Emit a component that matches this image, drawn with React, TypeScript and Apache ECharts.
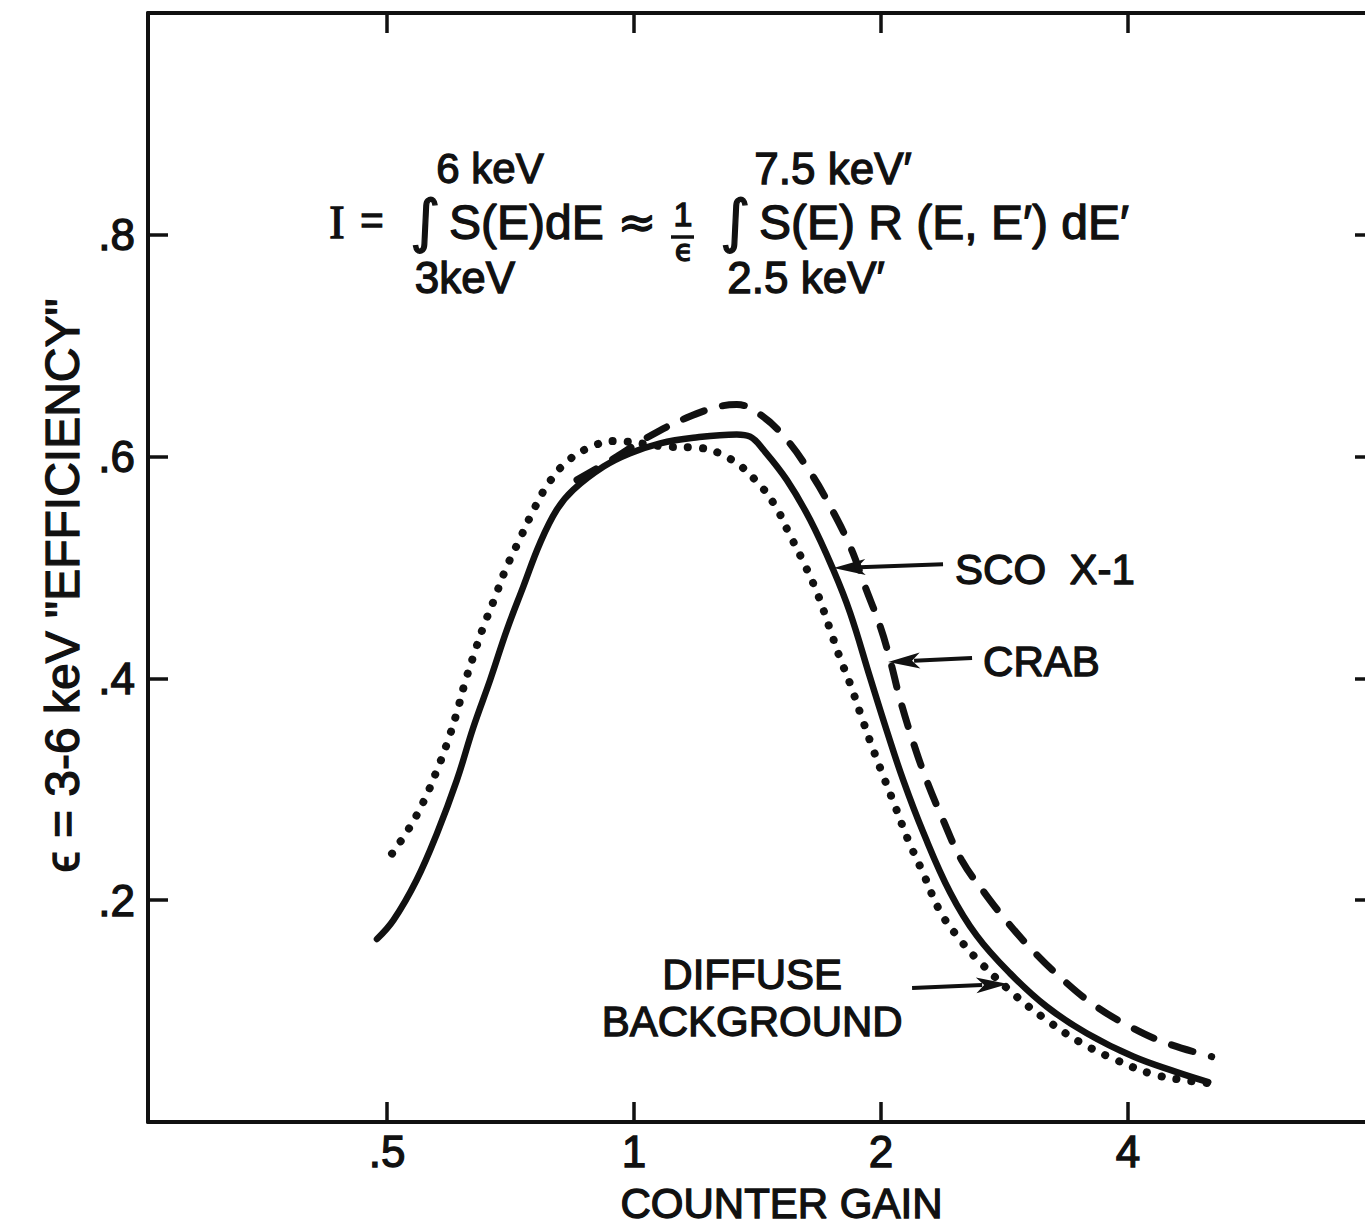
import React, { useEffect, useRef } from "react";
import * as echarts from "echarts";

// ---------- data ----------
const xTickValues = [0.5, 1, 2, 4];
const xTickLabels = [".5", "1", "2", "4"];
const yTickValues = [0.2, 0.4, 0.6, 0.8];
const yTickLabels = [".2", ".4", ".6", ".8"];

const scoGain = [0.486, 0.509, 0.543, 0.575, 0.608, 0.637, 0.668, 0.7, 0.733, 0.768, 0.805, 0.843, 0.918, 0.989, 1.076, 1.181, 1.334, 1.385, 1.438, 1.535, 1.639, 1.749, 1.834, 1.939, 2.032, 2.129, 2.252, 2.428, 2.616, 2.873, 3.184, 3.562, 4.06, 4.586, 5.01];
const scoEff = [0.165, 0.182, 0.218, 0.26, 0.308, 0.356, 0.399, 0.444, 0.483, 0.522, 0.552, 0.57, 0.591, 0.603, 0.612, 0.617, 0.62, 0.618, 0.606, 0.579, 0.543, 0.498, 0.459, 0.401, 0.353, 0.308, 0.261, 0.207, 0.168, 0.134, 0.104, 0.08, 0.059, 0.045, 0.036];

const crabGain = [0.852, 0.953, 1.036, 1.159, 1.285, 1.334, 1.424, 1.528, 1.639, 1.717, 1.834, 1.912, 1.995, 2.051, 2.11, 2.19, 2.273, 2.372, 2.508, 2.678, 2.846, 3.067, 3.336, 3.629, 4.022, 4.459, 5.059];
const crabEff = [0.579, 0.6, 0.617, 0.635, 0.646, 0.647, 0.638, 0.617, 0.586, 0.561, 0.519, 0.483, 0.447, 0.417, 0.381, 0.342, 0.308, 0.275, 0.236, 0.206, 0.181, 0.154, 0.128, 0.106, 0.086, 0.071, 0.059];

const diffuseGain = [0.507, 0.531, 0.554, 0.575, 0.592, 0.608, 0.622, 0.637, 0.654, 0.676, 0.698, 0.726, 0.758, 0.79, 0.836, 0.901, 0.944, 1.096, 1.198, 1.309, 1.405, 1.485, 1.542, 1.601, 1.67, 1.73, 1.779, 1.834, 1.886, 1.945, 2.01, 2.08, 2.156, 2.252, 2.356, 2.474, 2.633, 2.927, 3.169, 3.496, 3.868, 4.295, 4.76, 5.035];
const diffuseEff = [0.242, 0.264, 0.289, 0.317, 0.342, 0.369, 0.396, 0.42, 0.445, 0.472, 0.499, 0.526, 0.555, 0.578, 0.598, 0.611, 0.614, 0.609, 0.608, 0.598, 0.579, 0.556, 0.532, 0.508, 0.478, 0.446, 0.42, 0.395, 0.369, 0.341, 0.313, 0.285, 0.255, 0.224, 0.191, 0.168, 0.145, 0.113, 0.093, 0.072, 0.056, 0.043, 0.037, 0.035];

// annotation anchors in data coordinates [gain, efficiency]
const scoArrow = { from: [2.38, 0.503], to: [1.75, 0.4995], label: [2.462, 0.498], text: "SCO  X-1" };
const crabArrow = { from: [2.582, 0.4184], to: [2.04, 0.4148], label: [2.663, 0.4148], text: "CRAB" };
const diffuseArrow = { from: [2.182, 0.1208], to: [2.857, 0.1244] };
const diffuseLabelPos = [1.393, 0.1326];
const diffuseLabelPos2 = [1.393, 0.0902];
const diffuseText = ["DIFFUSE", "BACKGROUND"];

const X_MIN = 0.2556;
const X_MAX = 8;

const FONT = '"Liberation Sans", Arial, sans-serif';
const INK = "#111";
const CHART_W = 1380;

const zip = (a: number[], b: number[]) => a.map((v, i) => [v, b[i]]);

function xFormatter(v: number) {
  for (let i = 0; i < xTickValues.length; i++) {
    if (Math.abs(v - xTickValues[i]) < 1e-6) return xTickLabels[i];
  }
  return "";
}
function yFormatter(v: number) {
  for (let i = 0; i < yTickValues.length; i++) {
    if (Math.abs(v - yTickValues[i]) < 1e-6) return yTickLabels[i];
  }
  return "";
}

function txt(x: number, y: number, text: string, size: number, align = "left", family = FONT, extra: any = {}) {
  return {
    type: "text",
    x,
    y,
    silent: true,
    ...extra,
    style: { text, fontSize: size, fontFamily: family, fill: INK, stroke: INK, lineWidth: 1.3, align, verticalAlign: "middle" },
  };
}

function arrowGraphics(p0: number[], p1: number[]) {
  const dx = p1[0] - p0[0];
  const dy = p1[1] - p0[1];
  const len = Math.sqrt(dx * dx + dy * dy);
  const ux = dx / len;
  const uy = dy / len;
  const headLen = 32;
  const hw = 8;
  const bx = p1[0] - ux * headLen;
  const by = p1[1] - uy * headLen;
  return [
    {
      type: "line",
      silent: true,
      shape: { x1: p0[0], y1: p0[1], x2: bx + ux * 6, y2: by + uy * 6 },
      style: { stroke: INK, lineWidth: 4 },
    },
    {
      type: "polygon",
      silent: true,
      shape: { points: [[p1[0], p1[1]], [bx - uy * hw, by + ux * hw], [bx + ux * 8, by + uy * 8], [bx + uy * hw, by - ux * hw]] },
      style: { fill: INK },
    },
  ];
}

export default function App() {
  const ref = useRef<HTMLDivElement>(null);
  useEffect(() => {
    if (!ref.current) return;
    const chart = echarts.init(ref.current, undefined, { renderer: "svg" });
    const axisLine = { show: true, onZero: false, lineStyle: { color: INK, width: 4 } };
    const axisTick = { show: true, inside: true, length: 20, lineStyle: { color: INK, width: 3.5 } };
    const labelStyle = { color: INK, fontFamily: FONT, textBorderColor: INK, textBorderWidth: 1.3 };
    chart.setOption({
      animation: false,
      backgroundColor: "#ffffff",
      grid: { left: 148, top: 13, right: CHART_W - 1375, bottom: 106, containLabel: false, outerBoundsMode: "none" },
      xAxis: [
        {
          type: "log",
          logBase: 2,
          min: X_MIN,
          max: X_MAX,
          position: "bottom",
          axisLine,
          axisTick,
          splitLine: { show: false },
          minorTick: { show: false },
          axisLabel: { formatter: xFormatter, fontSize: 44, margin: 7, ...labelStyle },
          name: "COUNTER GAIN",
          nameLocation: "middle",
          nameGap: 60,
          nameTextStyle: { fontSize: 42, padding: [0, 0, 0, 40], ...labelStyle },
        },
        {
          type: "log",
          logBase: 2,
          min: X_MIN,
          max: X_MAX,
          position: "top",
          axisLine,
          axisTick,
          splitLine: { show: false },
          minorTick: { show: false },
          axisLabel: { show: false },
        },
      ],
      yAxis: [
        {
          type: "value",
          min: 0,
          max: 1,
          interval: 0.2,
          position: "left",
          axisLine,
          axisTick,
          splitLine: { show: false },
          axisLabel: { formatter: yFormatter, fontSize: 44, margin: 13, ...labelStyle },
          name: 'ϵ = 3-6 keV "EFFICIENCY"',
          nameLocation: "middle",
          nameGap: 50,
          nameTextStyle: { fontSize: 48, padding: [0, 36, 0, 0], ...labelStyle },
        },
        {
          type: "value",
          min: 0,
          max: 1,
          interval: 0.2,
          position: "right",
          axisLine,
          axisTick,
          splitLine: { show: false },
          axisLabel: { show: false },
        },
      ],
      series: [
        {
          name: "SCO X-1",
          type: "line",
          data: zip(scoGain, scoEff),
          showSymbol: false,
          symbol: "none",
          smooth: 0.4,
          lineStyle: { color: INK, width: 6.5, cap: "round", join: "round" },
          z: 3,
        },
        {
          name: "CRAB",
          type: "line",
          data: zip(crabGain, crabEff),
          showSymbol: false,
          symbol: "none",
          smooth: 0.4,
          lineStyle: { color: INK, width: 7, type: [22, 19], cap: "round" },
          z: 2,
        },
        {
          name: "DIFFUSE BACKGROUND",
          type: "line",
          data: zip(diffuseGain, diffuseEff),
          showSymbol: false,
          symbol: "none",
          smooth: 0.4,
          lineStyle: { color: INK, width: 8, type: [0.1, 15], cap: "round" },
          z: 2,
        },
      ],
    });

    const px = (p: number[]) => chart.convertToPixel({ xAxisIndex: 0, yAxisIndex: 0 }, p) as number[];

    const graphics: any[] = [];
    // formula
    graphics.push(txt(337, 222, "I", 46, "center", '"Liberation Serif", serif'));
    graphics.push(txt(372, 220, "=", 40, "center"));
    graphics.push(txt(425, 221, "∫", 58, "center", '"DejaVu Sans", sans-serif'));
    graphics.push(txt(449, 222, "S(E)dE", 48, "left"));
    graphics.push(txt(637, 222, "≈", 46, "center", '"DejaVu Sans", sans-serif'));
    graphics.push(txt(683, 214, "1", 34, "center"));
    graphics.push({ type: "line", silent: true, shape: { x1: 671, y1: 237, x2: 694, y2: 237 }, style: { stroke: INK, lineWidth: 3.5 } });
    graphics.push(txt(684, 250, "ϵ", 30, "center", '"DejaVu Sans", sans-serif'));
    graphics.push(txt(735, 221, "∫", 58, "center", '"DejaVu Sans", sans-serif'));
    graphics.push(txt(759, 222, "S(E) R (E, E′) dE′", 48, "left"));
    graphics.push(txt(490, 168, "6 keV", 42, "center"));
    graphics.push(txt(833, 168, "7.5 keV′", 44, "center"));
    graphics.push(txt(465, 277, "3keV", 44, "center"));
    graphics.push(txt(806, 277, "2.5 keV′", 44, "center"));

    // annotations
    for (const a of [scoArrow, crabArrow]) {
      graphics.push(...arrowGraphics(px(a.from), px(a.to)));
      const lp = px(a.label);
      graphics.push(txt(lp[0], lp[1], a.text, 42, "left"));
    }
    graphics.push(...arrowGraphics(px(diffuseArrow.from), px(diffuseArrow.to)));
    const d1 = px(diffuseLabelPos);
    const d2 = px(diffuseLabelPos2);
    graphics.push(txt(d1[0], d1[1], diffuseText[0], 42, "center"));
    graphics.push(txt(d2[0], d2[1], diffuseText[1], 42, "center"));

    chart.setOption({ graphic: graphics });

    return () => chart.dispose();
  }, []);

  return (
    <div
      ref={ref}
      style={{ position: "fixed", left: 0, top: 0, width: CHART_W, height: 1228, background: "#fff" }}
    />
  );
}
